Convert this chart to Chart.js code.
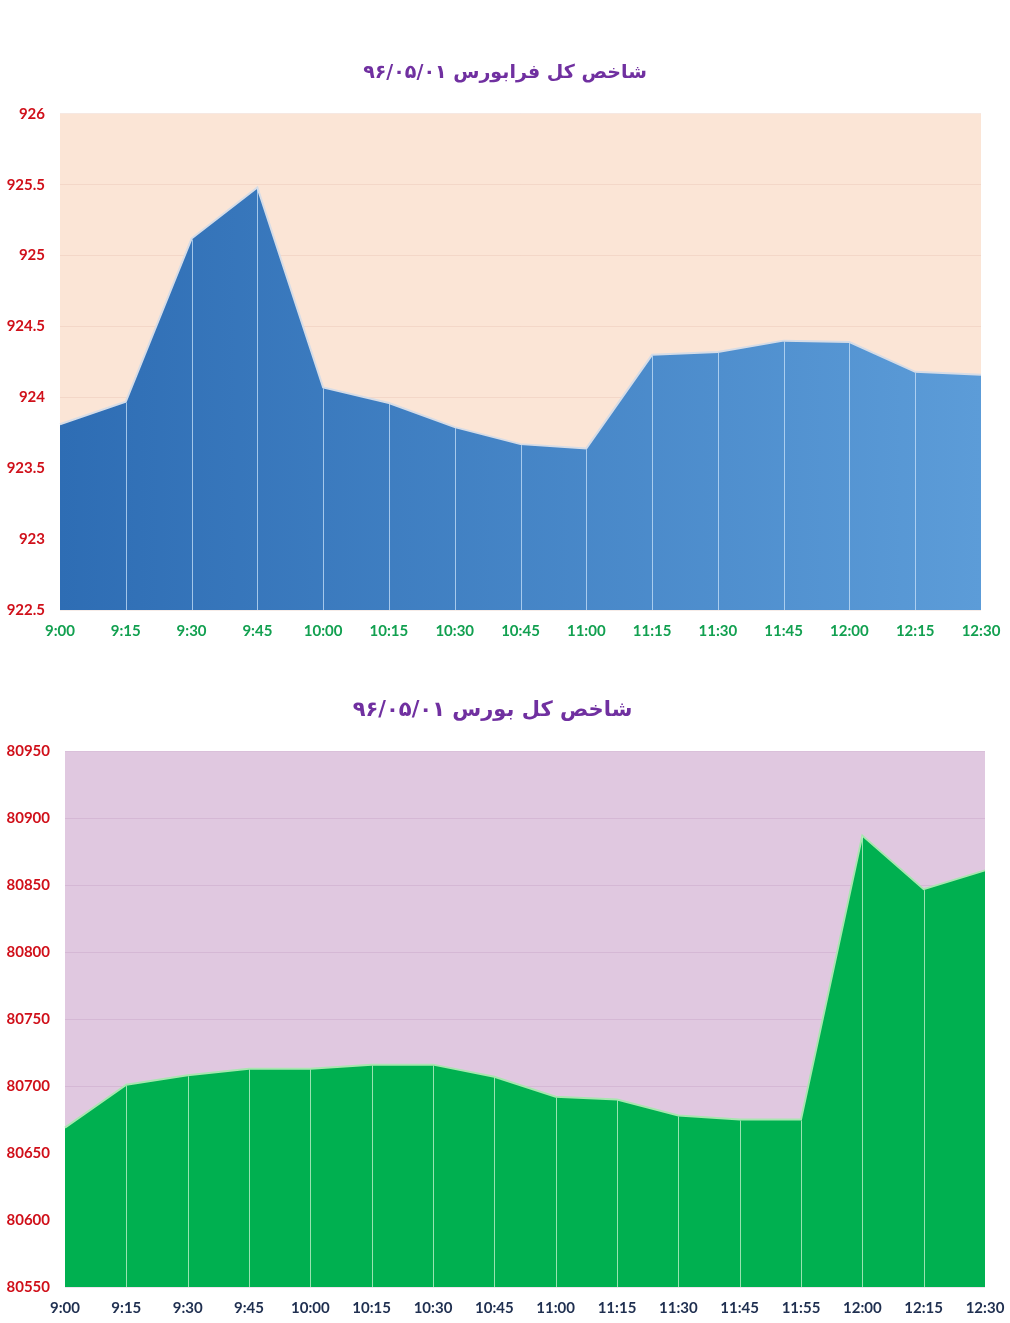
<!DOCTYPE html>
<html lang="fa">
<head>
<meta charset="utf-8">
<title>شاخص کل</title>
<script src="https://cdn.jsdelivr.net/npm/chart.js@4"></script>
<style>
    html, body { margin: 0; padding: 0; background: #ffffff; overflow: hidden; }
    .chart-box { position: relative; width: 1010px; }
    #fraBox { height: 650px; }
    #bourseBox { height: 673px; }
</style>
</head>
<body>
<div class="chart-box" id="fraBox"><canvas id="fraChart"></canvas></div>
<div class="chart-box" id="bourseBox"><canvas id="bourseChart"></canvas></div>
<script>
// Données - شاخص کل فرابورس
const fraTitle = 'شاخص کل فرابورس ۹۶/۰۵/۰۱';
const fraLabels = ['9:00', '9:15', '9:30', '9:45', '10:00', '10:15', '10:30', '10:45',
    '11:00', '11:15', '11:30', '11:45', '12:00', '12:15', '12:30'];
const fraValues = [923.81, 923.97, 925.12, 925.48, 924.07, 923.96, 923.79, 923.67,
    923.64, 924.30, 924.32, 924.40, 924.39, 924.18, 924.16];
const fraAxis = [922.5, 926, 0.5]; // min, max, step

// Données - شاخص کل بورس
const bourseTitle = 'شاخص کل بورس ۹۶/۰۵/۰۱';
const bourseLabels = ['9:00', '9:15', '9:30', '9:45', '10:00', '10:15', '10:30', '10:45',
    '11:00', '11:15', '11:30', '11:45', '11:55', '12:00', '12:15', '12:30'];
const bourseValues = [80669, 80701, 80708, 80713, 80713, 80716, 80716, 80707,
    80692, 80690, 80678, 80675, 80675, 80887, 80847, 80861];
const bourseAxis = [80550, 80950, 50];

const FONT = "Lato, 'DejaVu Sans', sans-serif";
const TITLE_FONT = "'DejaVu Sans', Lato, sans-serif";

// fond de la zone de tracé
const plotBackground = {
    id: 'plotBackground',
    beforeDraw(chart, args, opts) {
        const a = chart.chartArea;
        const ctx = chart.ctx;
        ctx.save();
        ctx.fillStyle = opts.color;
        ctx.fillRect(a.left, a.top, a.right - a.left, a.bottom - a.top);
        ctx.restore();
    }
};

// lignes verticales sous chaque point
const dropLines = {
    id: 'dropLines',
    afterDatasetsDraw(chart, args, opts) {
        const meta = chart.getDatasetMeta(0);
        const ctx = chart.ctx;
        const bottom = chart.chartArea.bottom;
        ctx.save();
        ctx.strokeStyle = opts.color;
        ctx.lineWidth = 1;
        meta.data.forEach((pt, i) => {
            if (i === 0 || i === meta.data.length - 1) return;
            ctx.beginPath();
            ctx.moveTo(Math.round(pt.x) + 0.5, pt.y + 1);
            ctx.lineTo(Math.round(pt.x) + 0.5, bottom);
            ctx.stroke();
        });
        ctx.restore();
    }
};

function buildChart(el, cfg) {
    return new Chart(document.getElementById(el).getContext('2d'), {
        type: 'line',
        data: {
            labels: cfg.labels,
            datasets: [{
                data: cfg.values,
                fill: 'start',
                backgroundColor: cfg.fill,
                borderColor: cfg.border,
                borderWidth: 2,
                pointRadius: 0,
                tension: 0
            }]
        },
        options: {
            responsive: true,
            maintainAspectRatio: false,
            animation: false,
            layout: { padding: { left: 0, right: cfg.padRight, top: 0, bottom: 0 } },
            plugins: {
                legend: { display: false },
                tooltip: { enabled: false },
                title: {
                    display: true,
                    text: cfg.title,
                    color: '#7030A0',
                    font: { family: TITLE_FONT, size: cfg.titleSize, weight: 'bold' },
                    padding: { top: cfg.titleTop, bottom: cfg.titleBottom }
                },
                plotBackground: { color: cfg.bg },
                dropLines: { color: cfg.drop }
            },
            scales: {
                x: {
                    offset: false,
                    grid: { display: false, drawTicks: false },
                    border: { display: false },
                    ticks: {
                        autoSkip: false,
                        maxRotation: 0,
                        padding: cfg.xPad,
                        color: cfg.xColor,
                        font: { family: FONT, size: 15, weight: 'bold' }
                    },
                    afterFit(scale) {
                        scale.height = cfg.xHeight;
                        scale.paddingRight = cfg.scaleRight;
                    }
                },
                y: {
                    min: cfg.axis[0],
                    max: cfg.axis[1],
                    grid: { color: cfg.grid, drawTicks: false },
                    border: { display: false },
                    ticks: {
                        stepSize: cfg.axis[2],
                        padding: 15,
                        color: '#D0101A',
                        font: { family: FONT, size: 15, weight: 'bold' },
                        callback: (v) => String(v)
                    },
                    afterFit(scale) { scale.width = cfg.yWidth; }
                }
            }
        },
        plugins: [plotBackground, dropLines]
    });
}

function blueGradient(context) {
    const chart = context.chart;
    const a = chart.chartArea;
    if (!a) return '#4A8ACB';
    const g = chart.ctx.createLinearGradient(a.left, 0, a.right, 0);
    g.addColorStop(0, '#2E6DB4');
    g.addColorStop(1, '#5C9CD8');
    return g;
}

buildChart('fraChart', {
    labels: fraLabels,
    values: fraValues,
    axis: fraAxis,
    title: fraTitle,
    titleSize: 19,
    titleTop: 62,
    titleBottom: 29,
    fill: blueGradient,
    border: '#D6DCE6',
    drop: 'rgba(200,225,250,0.75)',
    bg: '#FBE5D6',
    grid: 'rgba(215,170,150,0.22)',
    xColor: '#12A050',
    xPad: 12,
    xHeight: 40,
    yWidth: 60,
    padRight: 0,
    scaleRight: 29
});

buildChart('bourseChart', {
    labels: bourseLabels,
    values: bourseValues,
    axis: bourseAxis,
    title: bourseTitle,
    titleSize: 21,
    titleTop: 48,
    titleBottom: 28,
    fill: '#00B050',
    border: '#A8E6B0',
    drop: 'rgba(190,240,200,0.8)',
    bg: '#E0C8E0',
    grid: 'rgba(170,120,170,0.2)',
    xColor: '#1F2F50',
    xPad: 12,
    xHeight: 36,
    yWidth: 65,
    padRight: 25,
    scaleRight: 0
});
</script>
</body>
</html>
